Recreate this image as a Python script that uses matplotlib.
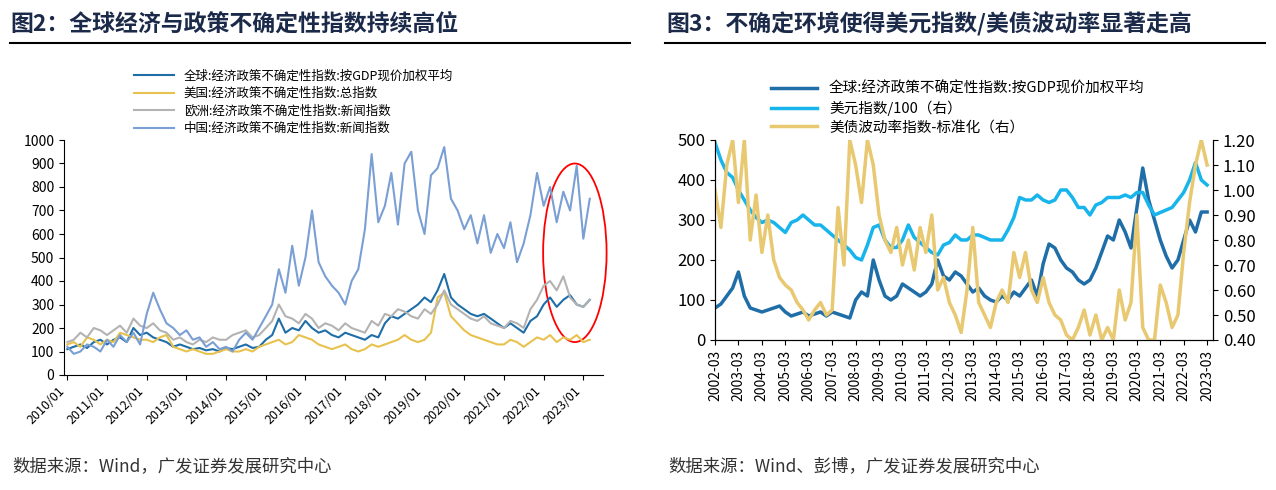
import numpy as np
import pandas as pd
import matplotlib
matplotlib.use("Agg")
import matplotlib.pyplot as plt
from matplotlib.patches import Ellipse

plt.rcParams['font.family'] = ['Noto Sans CJK SC', 'DejaVu Sans']

# ---- Left chart data (bi-monthly, 2010/01 .. 2023/03) ----
left_dates = pd.date_range("2010-01-01", periods=80, freq="2MS")
global_epu = [110, 120, 130, 115, 140, 150, 130, 150, 160, 140, 200, 170,
              180, 160, 150, 140, 120, 130, 120, 110, 115, 105, 110, 100,
              115, 110, 120, 130, 115, 120, 150, 170, 240, 180, 200, 190,
              230, 200, 180, 190, 170, 160, 180, 170, 160, 150, 170, 160,
              220, 250, 240, 260, 280, 300, 330, 310, 360, 430, 330, 300,
              280, 260, 250, 260, 240, 220, 200, 220, 200, 180, 230, 250,
              300, 330, 290, 320, 340, 300, 290, 320]
us_epu = [130, 140, 120, 160, 150, 130, 150, 140, 180, 170, 160, 150,
          150, 140, 160, 170, 120, 110, 100, 110, 100, 90, 90, 100,
          110, 100, 100, 110, 100, 120, 130, 140, 150, 130, 140, 170,
          160, 150, 130, 120, 110, 120, 130, 110, 100, 110, 130, 120,
          130, 140, 150, 170, 150, 140, 150, 180, 330, 350, 250, 220,
          190, 170, 160, 150, 140, 130, 130, 150, 140, 120, 140, 160,
          150, 170, 140, 160, 150, 170, 140, 150]
eu_epu = [140, 150, 180, 160, 200, 190, 170, 190, 210, 180, 240, 210,
          200, 220, 190, 180, 150, 160, 140, 130, 150, 140, 160, 150,
          150, 170, 180, 190, 160, 170, 200, 230, 300, 250, 240, 220,
          260, 240, 200, 220, 210, 190, 220, 200, 190, 180, 230, 210,
          260, 250, 280, 270, 250, 240, 280, 260, 300, 360, 300, 280,
          260, 240, 230, 250, 220, 210, 200, 230, 220, 200, 280, 320,
          380, 400, 360, 420, 330, 300, 290, 320]
cn_epu = [120, 90, 100, 130, 120, 100, 150, 120, 170, 140, 180, 130,
          260, 350, 280, 220, 200, 170, 190, 150, 160, 120, 140, 110,
          120, 100, 150, 180, 150, 200, 250, 300, 450, 350, 550, 380,
          500, 700, 480, 420, 380, 350, 300, 400, 450, 620, 940, 650,
          720, 860, 640, 900, 950, 700, 600, 850, 880, 970, 750, 700,
          620, 680, 560, 680, 520, 600, 540, 650, 480, 560, 680, 860,
          720, 800, 650, 780, 700, 890, 580, 750]
left_ticks = pd.date_range("2010-01-01", "2023-01-01", freq="YS")

# ---- Right chart data (quarterly, 2002-03 .. 2023-03) ----
right_dates = pd.date_range("2002-03-01", periods=85, freq="3MS")
gepu_r = [80, 90, 110, 130, 170, 110, 80, 75, 70, 75, 80, 85,
          70, 60, 65, 70, 60, 65, 70, 60, 70, 65, 60, 55,
          100, 120, 110, 200, 150, 110, 100, 110, 140, 130, 120, 110,
          120, 140, 200, 160, 150, 170, 160, 140, 120, 130, 110, 100,
          95, 110, 100, 120, 110, 130, 150, 110, 190, 240, 230, 200,
          180, 170, 150, 140, 150, 180, 220, 260, 250, 300, 270, 230,
          330, 430, 350, 300, 250, 210, 180, 200, 250, 300, 270, 320,
          320]
usd_r = [1.19, 1.12, 1.07, 1.05, 1.00, 0.96, 0.92, 0.89, 0.87, 0.88, 0.87, 0.85,
         0.83, 0.87, 0.88, 0.90, 0.88, 0.86, 0.86, 0.84, 0.82, 0.80, 0.78, 0.76,
         0.73, 0.72, 0.78, 0.85, 0.86, 0.80, 0.77, 0.77, 0.80, 0.86, 0.81, 0.79,
         0.77, 0.75, 0.74, 0.78, 0.79, 0.82, 0.80, 0.80, 0.82, 0.82, 0.81, 0.80,
         0.80, 0.80, 0.84, 0.89, 0.97, 0.96, 0.96, 0.98, 0.96, 0.95, 0.96, 1.00,
         1.00, 0.97, 0.93, 0.93, 0.90, 0.94, 0.95, 0.97, 0.97, 0.97, 0.98, 0.97,
         0.99, 0.99, 0.94, 0.90, 0.91, 0.92, 0.93, 0.96, 0.99, 1.04, 1.11, 1.04,
         1.02]
bvol_r = [1.00, 0.85, 1.10, 1.20, 0.95, 1.20, 0.80, 0.98, 0.75, 0.90, 0.72, 0.65,
          0.62, 0.60, 0.55, 0.52, 0.48, 0.52, 0.55, 0.50, 0.52, 0.93, 0.70, 1.20,
          1.10, 0.95, 1.20, 1.10, 0.90, 0.80, 0.75, 0.85, 0.70, 0.80, 0.68, 0.85,
          0.75, 0.90, 0.60, 0.65, 0.55, 0.50, 0.43, 0.60, 0.85, 0.55, 0.50, 0.45,
          0.55, 0.60, 0.55, 0.75, 0.65, 0.75, 0.60, 0.55, 0.65, 0.55, 0.50, 0.48,
          0.42, 0.40, 0.45, 0.52, 0.42, 0.50, 0.40, 0.45, 0.40, 0.60, 0.48, 0.55,
          0.90, 0.45, 0.40, 0.40, 0.62, 0.55, 0.45, 0.50, 0.75, 0.95, 1.10, 1.20,
          1.10]
right_ticks = pd.date_range("2002-03-01", "2023-03-01", freq="12MS")

C_GLOBAL = "#1f6ea8"
C_US = "#e8c24f"
C_EU = "#b3b3b3"
C_CN = "#7a9fd4"
C_TITLE = "#1c2a4a"

fig = plt.figure(figsize=(12.76, 4.9), dpi=100)
W, H = 1276, 490

def px(x0, y0, x1, y1):
    return [x0 / W, 1 - y1 / H, (x1 - x0) / W, (y1 - y0) / H]

# headers / rules / sources
fig.text(10 / W, 1 - 24 / H, "图2：全球经济与政策不确定性指数持续高位", fontsize=16.5,
         fontweight="bold", color=C_TITLE, va="center")
fig.text(666 / W, 1 - 24 / H, "图3：不确定环境使得美元指数/美债波动率显著走高", fontsize=16.5,
         fontweight="bold", color=C_TITLE, va="center")
fig.add_artist(plt.Line2D([10 / W, 630 / W], [1 - 43 / H] * 2, color="black", lw=1.5))
fig.add_artist(plt.Line2D([665 / W, 1265 / W], [1 - 43 / H] * 2, color="black", lw=1.5))
fig.text(12 / W, 1 - 466 / H, "数据来源：Wind，广发证券发展研究中心", fontsize=12.5, color="#333333", va="center")
fig.text(668 / W, 1 - 466 / H, "数据来源：Wind、彭博，广发证券发展研究中心", fontsize=12.5, color="#333333", va="center")

# ---- left ----
ax = fig.add_axes(px(64, 140, 603, 375))
ax.plot(left_dates, global_epu, color=C_GLOBAL, lw=1.5, label="全球:经济政策不确定性指数:按GDP现价加权平均")
ax.plot(left_dates, us_epu, color=C_US, lw=1.5, label="美国:经济政策不确定性指数:总指数")
ax.plot(left_dates, eu_epu, color=C_EU, lw=1.5, label="欧洲:经济政策不确定性指数:新闻指数")
ax.plot(left_dates, cn_epu, color=C_CN, lw=1.5, label="中国:经济政策不确定性指数:新闻指数")
ax.set_ylim(0, 1000)
ax.set_yticks(range(0, 1001, 100))
ax.set_xlim(pd.Timestamp("2009-12-01"), pd.Timestamp("2023-07-01"))
ax.set_xticks(left_ticks)
ax.set_xticklabels([d.strftime("%Y/%m") for d in left_ticks], rotation=45, ha="right", fontsize=9)
ax.tick_params(axis="y", labelsize=10)
for s in ["top", "right"]:
    ax.spines[s].set_visible(False)
ell = Ellipse((pd.Timestamp("2022-10-15"), 520), width=1.6 * 365, height=760,
              fill=False, ec="red", lw=1.3, clip_on=False)
ell.set_transform(ax.transData)
ax.add_patch(ell)
ax.legend(loc="lower left", bbox_to_anchor=(0.12, 1.0), frameon=False, fontsize=9,
          handlelength=3.2, labelspacing=0.35, borderaxespad=0)

# ---- right ----
ax2 = fig.add_axes(px(715, 140, 1213, 340))
ax3 = ax2.twinx()
l1, = ax2.plot(right_dates, gepu_r, color=C_GLOBAL, lw=2.5, label="全球:经济政策不确定性指数:按GDP现价加权平均")
l2, = ax3.plot(right_dates, usd_r, color="#18b4ec", lw=2.5, label="美元指数/100（右）")
l3, = ax3.plot(right_dates, bvol_r, color="#e8c870", lw=2.5, label="美债波动率指数-标准化（右）")
ax2.set_ylim(0, 500)
ax3.set_ylim(0.4, 1.2)
ax3.set_yticks(np.arange(0.4, 1.21, 0.1))
ax3.set_yticklabels([f"{v:.2f}" for v in np.arange(0.4, 1.21, 0.1)])
ax2.set_xlim(pd.Timestamp("2002-03-01"), pd.Timestamp("2023-06-01"))
ax2.set_xticks(right_ticks)
ax2.set_xticklabels([d.strftime("%Y-%m") for d in right_ticks], rotation=90, fontsize=10)
ax2.tick_params(axis="y", labelsize=12)
ax3.tick_params(axis="y", labelsize=12)
ax2.spines["top"].set_visible(False)
ax3.spines["top"].set_visible(False)
ax2.legend(handles=[l1, l2, l3], loc="lower left", bbox_to_anchor=(0.1, 1.0), frameon=False,
           fontsize=10.5, handlelength=3.2, labelspacing=0.3, borderaxespad=0)

fig.savefig("out.png", dpi=100)
